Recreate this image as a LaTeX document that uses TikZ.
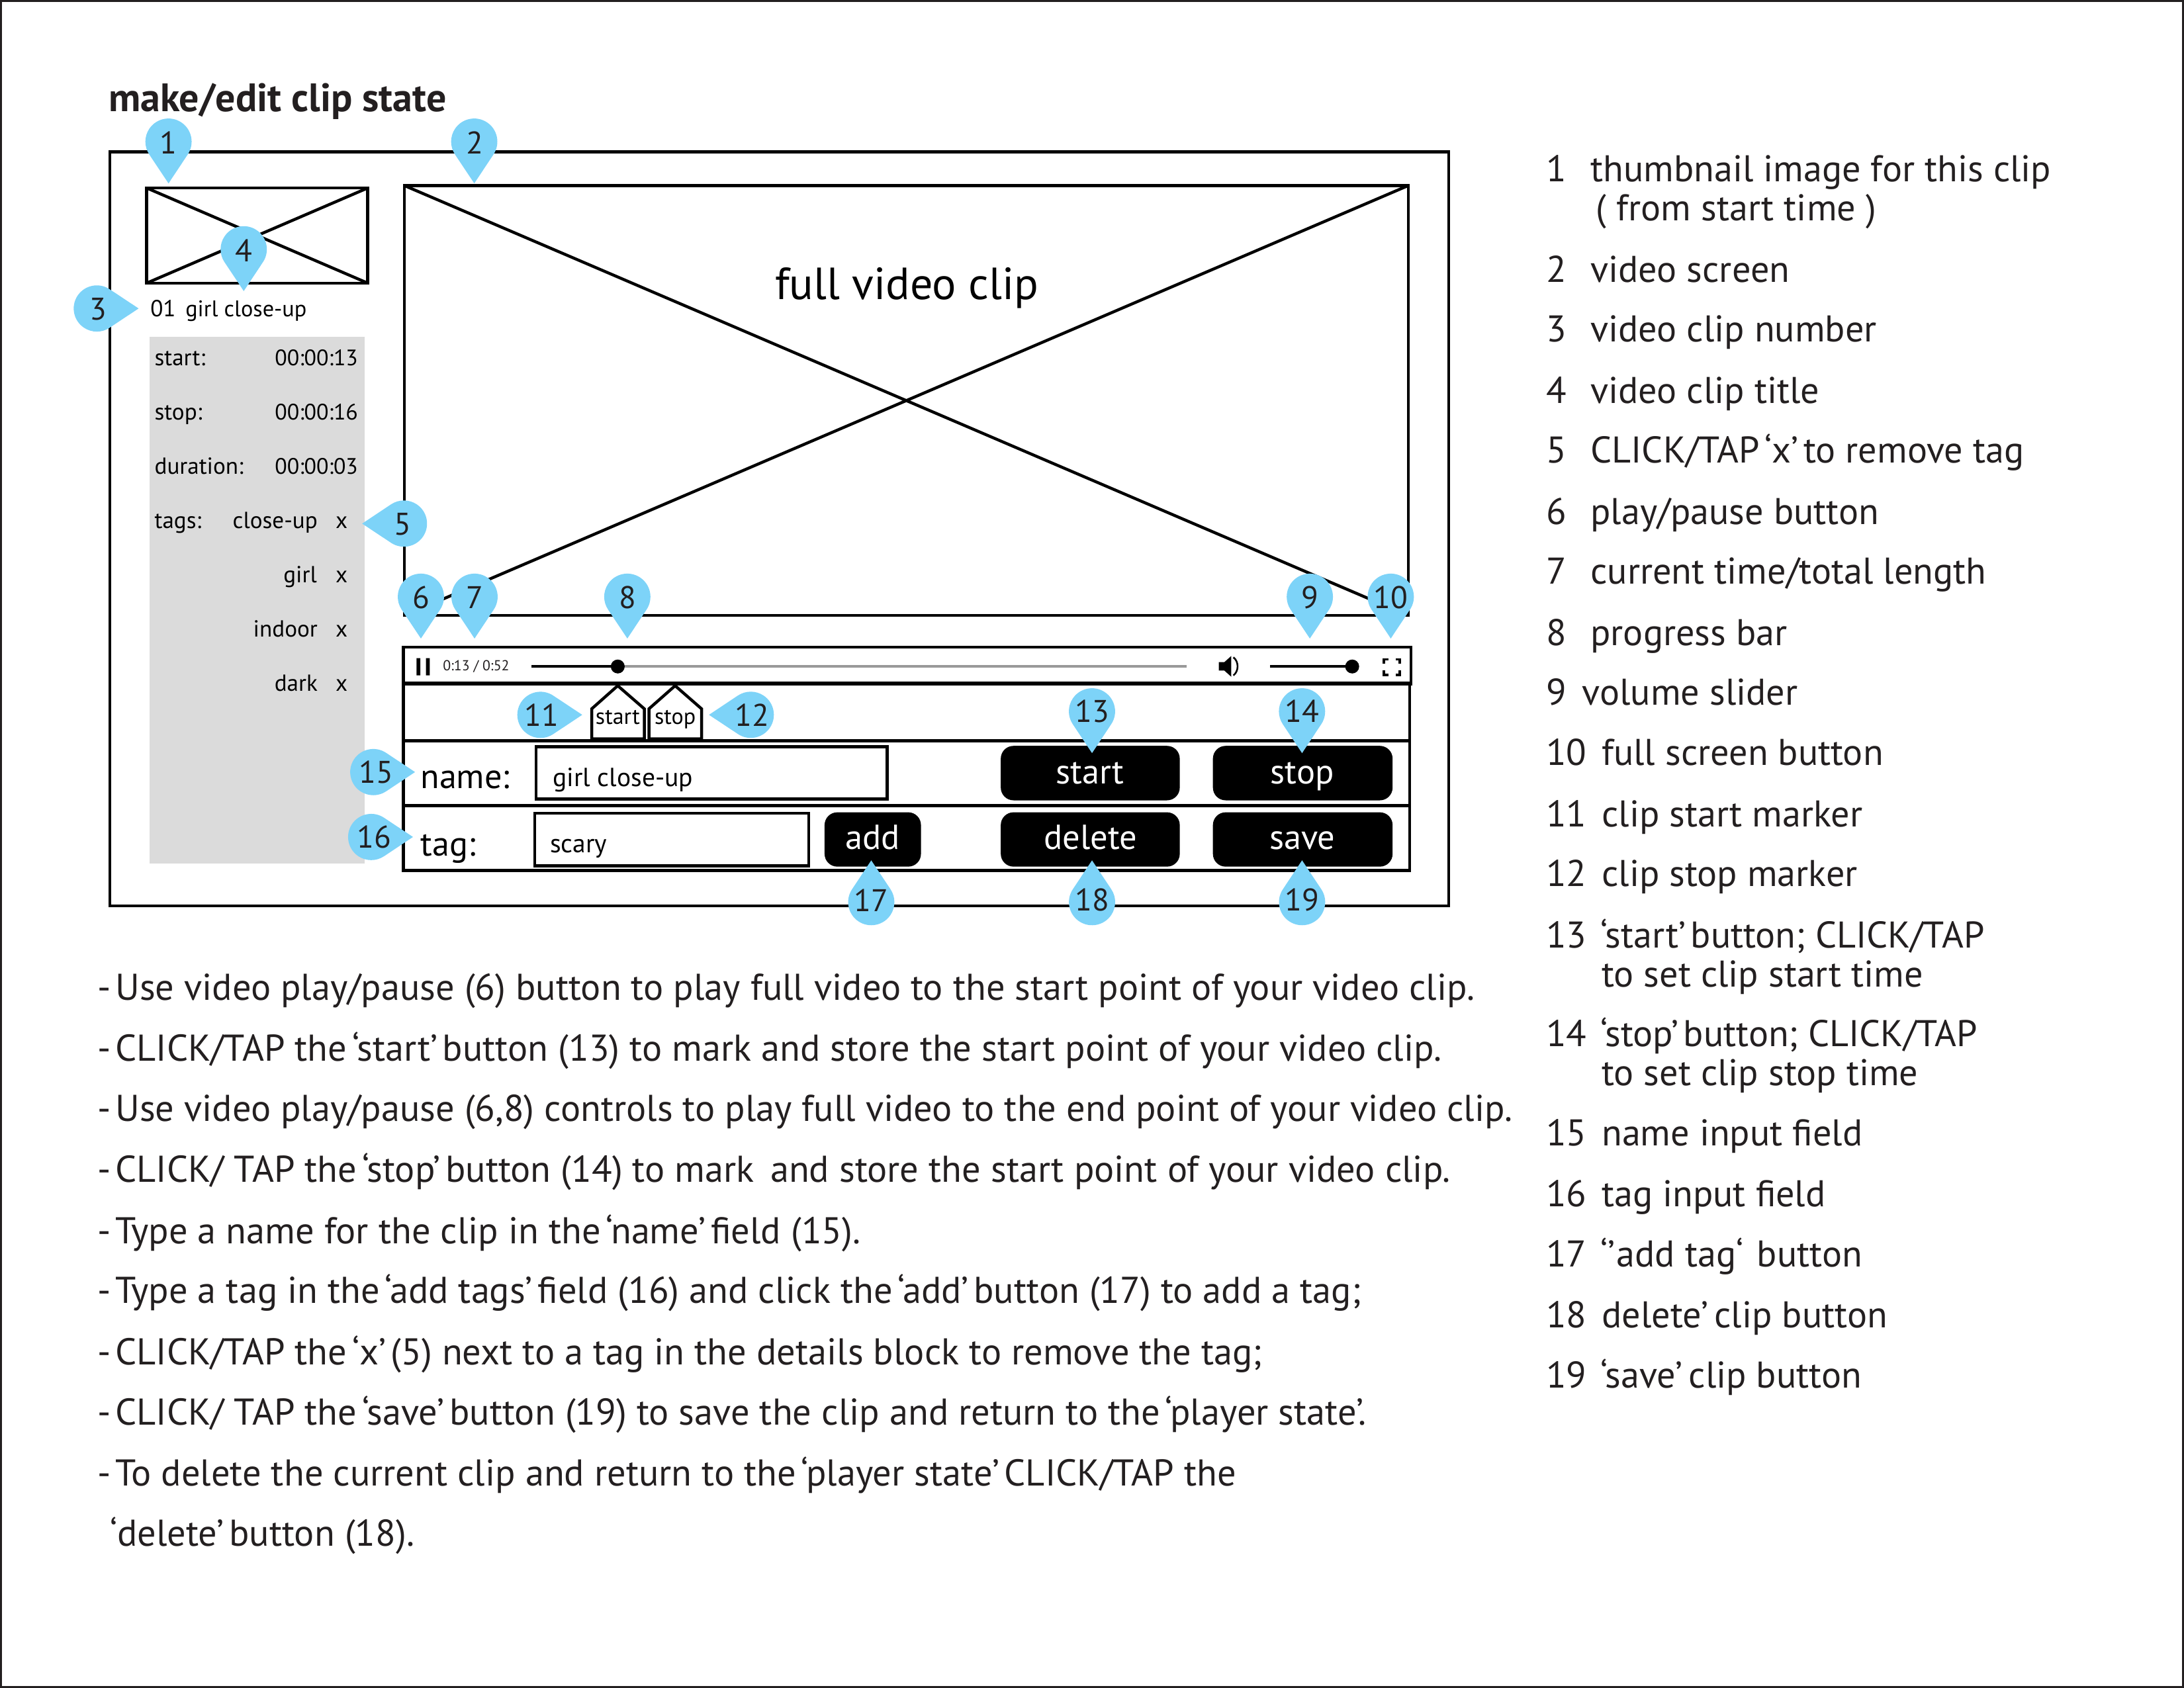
\documentclass[tikz,border=0pt]{standalone}
\usepackage{fontspec}
\setmainfont{PT Sans}
\definecolor{pinblue}{HTML}{7DD3F8}
\definecolor{ink}{HTML}{231F20}
\definecolor{panelgray}{HTML}{DBDBDB}
\tikzset{
  every node/.style={inner sep=0pt,outer sep=0pt,text=ink},
  thinbox/.style={draw=black,line width=1.2pt},
  pinlabel/.style={font=\fontsize{12.8}{14}\selectfont},
  bodytext/.style={anchor=base west,font=\fontsize{15.25}{18}\selectfont},
  listtext/.style={anchor=base west,font=\fontsize{15.2}{18}\selectfont},
  sidetext/.style={anchor=base west,font=\fontsize{9.5}{11}\selectfont,text=black},
  sideright/.style={anchor=base east,font=\fontsize{9.5}{11}\selectfont,text=black},
  timetext/.style={anchor=base east,font=\fontsize{9.15}{11}\selectfont,text=black},
  formtext/.style={anchor=base west,font=\fontsize{14.1}{16}\selectfont,text=black},
  inputtext/.style={anchor=base west,font=\fontsize{10.7}{13}\selectfont,text=black},
  btn/.style={fill=black,draw=none,rounded corners=5.2pt},
  btntext/.style={font=\fontsize{14.2}{16}\selectfont,text=white},
  markertext/.style={anchor=base,font=\fontsize{9.2}{11}\selectfont,text=black},
}
% [label offset], name, x, y, rotation (0 = tip down), label
\newcommand{\pinmark}[6][0,0]{%
  \fill[pinblue,shift={(#3,#4)},rotate=#5]
    (0,30) -- (13.8,9.2) arc[start angle=33.6,end angle=-213.6,radius=16.6] -- cycle;
  \node[pinlabel,shift={(#1)}] (#2) at (#3,#4) {#6};}
\newcommand{\listline}[4]{\node[listtext] (#1) at (#2,#3) {#4};}
\newcommand{\bodyline}[4]{\node[bodytext] (#1) at (#2,#3) {#4};}
% tightly set quoted word, as the reference prints it
\newcommand{\tq}[1]{\hspace{-0.13em}‘#1’\hspace{-0.13em}}
\newcommand{\dsh}{-\hspace{0.12em}}
\begin{document}
\begin{tikzpicture}[x=0.02cm,y=-0.02cm]
\useasboundingbox (0,0) rectangle (1568,1212);
\draw[line width=0.9pt,draw=ink] (0.5,0.5) rectangle (1567.5,1211.5);

\node[anchor=base west,font=\bfseries\fontsize{16.2}{18}\selectfont] (title) at (78,80) {make/edit clip state};

% frame
\draw[thinbox] (79,109) rectangle (1040,650.5);
% thumbnail
\draw[thinbox] (105.3,135) rectangle (264,203.3);
\draw[thinbox] (105.3,135) -- (264,203.3) (105.3,203.3) -- (264,135);
% video
\draw[thinbox] (290.4,133.3) rectangle (1011,442);
\draw[thinbox] (290.4,133.3) -- (1011,442) (290.4,442) -- (1011,133.3);
\node[anchor=base,font=\fontsize{18.4}{22}\selectfont,text=black] (fulltitle) at (651,215) {full video clip};

\node[sidetext] (clipno) at (108,227.5) {01\hspace{0.42em}\fontsize{9.25}{11}\selectfont girl close-up};
\fill[panelgray] (107.2,242) rectangle (261.7,620);
\node[sidetext] (l1) at (111,262.3) {start:};   \node[timetext] (v1) at (257,262.3) {00:00:13};
\node[sidetext] (l2) at (111,301.3) {stop:};    \node[timetext] (v2) at (257,301.3) {00:00:16};
\node[sidetext] (l3) at (111,340.3) {duration:};\node[timetext] (v3) at (257,340.3) {00:00:03};
\node[sidetext] (l4) at (111,379.3) {tags:};
\node[sideright] (t1) at (228,379.3) {close-up}; \node[sidetext] (x1) at (241,379.3) {x};
\node[sideright] (t2) at (227.5,418.3) {girl};   \node[sidetext] (x2) at (241,418.3) {x};
\node[sideright] (t3) at (228,457.3) {indoor};   \node[sidetext] (x3) at (241,457.3) {x};
\node[sideright] (t4) at (228,496.3) {dark};     \node[sidetext] (x4) at (241,496.3) {x};

% control panel
\draw[thinbox] (289.7,464.8) rectangle (1013,491);
\draw[thinbox] (289.7,491) rectangle (1012,625);
\draw[line width=1.7pt] (289.7,491) -- (1013,491);
\draw[thinbox] (289.7,532) -- (1012,532) (289.7,578.4) -- (1012,578.4);

\fill[black] (299,472.6) rectangle (301.8,485) (305.8,472.6) rectangle (308.6,485);
\node[font=\fontsize{5.9}{6}\selectfont,anchor=west] (timecode) at (318,478.5) {0:13 / 0:52};
\draw[line width=1.1pt,draw=black!40] (443.5,478.6) -- (852,478.6);
\draw[line width=1.1pt,draw=black] (381.6,478.6) -- (443.5,478.6);
\fill[black] (443.5,478.6) circle[radius=5];
% speaker
\fill[black] (875,475.5) -- (879,475.5) -- (884,471) -- (884,486) -- (879,481.5) -- (875,481.5) -- cycle;
\draw[line width=0.7pt] (885.5,472) .. controls (889.5,475) and (889.5,482) .. (885.5,485);
\draw[line width=1pt] (912,478.6) -- (970.8,478.6);
\fill[black] (970.8,478.6) circle[radius=5];
% fullscreen
\draw[line width=1pt] (993.5,476.5) -- (993.5,473.5) -- (997,473.5)
  (1002,473.5) -- (1005,473.5) -- (1005,476.5)
  (1005,481.5) -- (1005,484.5) -- (1002,484.5)
  (997,484.5) -- (993.5,484.5) -- (993.5,481.5);

% markers
\draw[line width=1.2pt,fill=white] (424.8,530.5) -- (424.8,509) -- (443.5,492.4) -- (462.6,509) -- (462.6,530.5) -- cycle;
\draw[line width=1.2pt,fill=white] (465.9,530.5) -- (465.9,509) -- (484.7,492.4) -- (503.7,509) -- (503.7,530.5) -- cycle;
\node[markertext] (mstart) at (443.5,520) {start};
\node[markertext] (mstop) at (484.7,520) {stop};

% form
\node[formtext] (namelbl) at (302,566) {name:};
\draw[thinbox] (385,536.2) rectangle (637,573.7);
\node[inputtext] (nameval) at (397,564.5) {girl close-up};
\node[formtext] (taglbl) at (302,614.5) {tag:};
\draw[thinbox] (384,584) rectangle (580.5,621.7);
\node[inputtext] (tagval) at (395,612) {scary};

\fill[btn] (592,583.3) rectangle (661.2,622.3);
\fill[btn] (718.5,535.6) rectangle (847,574.7);
\fill[btn] (870.8,535.6) rectangle (999.8,574.7);
\fill[btn] (718.5,583.3) rectangle (847,622.3);
\fill[btn] (870.8,583.3) rectangle (999.8,622.3);
\node[btntext,anchor=base] (badd) at (626.5,610) {add};
\node[btntext,anchor=base] (bstart) at (782.5,563) {start};
\node[btntext,anchor=base] (bstop) at (935,563) {stop};
\node[btntext,anchor=base] (bdel) at (783,610) {delete};
\node[btntext,anchor=base] (bsave) at (935,610) {save};

% pins
\pinmark[0,0.8]{p1}{121}{101.7}{0}{1}
\pinmark[0.5,0.8]{p2}{340.5}{101.7}{0}{2}
\pinmark[1,0.5]{p3}{69.5}{221.5}{90}{3}
\pinmark[0,0.8]{p4}{175}{179}{0}{4}
\pinmark[-1,0.5]{p5}{290}{376}{-90}{5}
\pinmark[0,0.5]{p6}{302.2}{428.5}{0}{6}
\pinmark[0,0.5]{p7}{340.7}{428.5}{0}{7}
\pinmark[0,0.5]{p8}{450.4}{428.5}{0}{8}
\pinmark[0,0.5]{p9}{940.4}{428.5}{0}{9}
\pinmark[0,0.5]{p10}{998.5}{428.5}{0}{10}
\pinmark[1,0]{p11}{388}{513.3}{90}{11}
\pinmark[1,0]{p12}{539}{513.3}{-90}{12}
\pinmark{p13}{784}{510.8}{0}{13}
\pinmark{p14}{934.8}{510.8}{0}{14}
\pinmark[2,0]{p15}{268}{554.4}{90}{15}
\pinmark[2,0]{p16}{266.5}{601}{90}{16}
\pinmark[0,-1.5]{p17}{625.5}{647.8}{180}{17}
\pinmark[0,-1.5]{p18}{784}{647.8}{180}{18}
\pinmark[0,-1.5]{p19}{934.8}{647.8}{180}{19}

% instructions
\bodyline{b1}{70}{718}{\dsh Use video play/pause (6) button to play full video to the start point of your video clip.}
\bodyline{b2}{70}{762}{\dsh CLICK/TAP the \tq{start} button (13) to mark and store the start point of your video clip.}
\bodyline{b3}{70}{805}{\dsh Use video play/pause (6,8) controls to play full video to the end point of your video clip.}
\bodyline{b4}{70}{849}{\dsh CLICK/ TAP the \tq{stop} button (14) to mark\, and store the start point of your video clip.}
\bodyline{b5}{70}{893}{\dsh Type a name for the clip in the \tq{name} field (15).}
\bodyline{b6}{70}{936}{\dsh Type a tag in the \tq{add tags} field (16) and click the \tq{add} button (17) to add a tag;}
\bodyline{b7}{70}{980}{\dsh CLICK/TAP the \tq{x} (5) next to a tag in the details block to remove the tag;}
\bodyline{b8}{70}{1023}{\dsh CLICK/ TAP the \tq{save} button (19) to save the clip and return to the \tq{player state}.}
\bodyline{b9}{70}{1067}{\dsh To delete the current clip and return to the \tq{player state} CLICK/TAP the}
\bodyline{b10}{79}{1110}{‘delete’\hspace{-0.13em} button (18).}

% legend
\listline{n1}{1110}{130.5}{1}\listline{d1}{1142}{130.5}{thumbnail image for this clip}
\listline{d1b}{1146}{158.5}{( from start time )}
\listline{n2}{1110}{202.5}{2}\listline{d2}{1142}{202.5}{video screen}
\listline{n3}{1110}{245.5}{3}\listline{d3}{1142}{245.5}{video clip number}
\listline{n4}{1110}{289.5}{4}\listline{d4}{1142}{289.5}{video clip title}
\listline{n5}{1110}{332.5}{5}\listline{d5}{1142}{332.5}{CLICK/TAP \tq{x} to remove tag}
\listline{n6}{1110}{376.5}{6}\listline{d6}{1142}{376.5}{play/pause button}
\listline{n7}{1110}{419.5}{7}\listline{d7}{1142}{419.5}{current time/total length}
\listline{n8}{1110}{463.5}{8}\listline{d8}{1142}{463.5}{progress bar}
\listline{n9}{1110}{506.5}{9}\listline{d9}{1136}{506.5}{volume slider}
\listline{n10}{1110}{549.5}{10}\listline{d10}{1150}{549.5}{full screen button}
\listline{n11}{1110}{593.5}{11}\listline{d11}{1150}{593.5}{clip start marker}
\listline{n12}{1110}{636.5}{12}\listline{d12}{1150}{636.5}{clip stop marker}
\listline{n13}{1110}{680.5}{13}\listline{d13}{1149}{680.5}{‘start’\hspace{-0.13em} button; CLICK/TAP}
\listline{d13b}{1150}{708.5}{to set clip start time}
\listline{n14}{1110}{751.5}{14}\listline{d14}{1149}{751.5}{‘stop’\hspace{-0.13em} button; CLICK/TAP}
\listline{d14b}{1150}{779.5}{to set clip stop time}
\listline{n15}{1110}{822.5}{15}\listline{d15}{1150}{822.5}{name input field}
\listline{n16}{1110}{866.5}{16}\listline{d16}{1150}{866.5}{tag input field}
\listline{n17}{1110}{909.5}{17}\listline{d17}{1149}{909.5}{‘’\hspace{0.05em}add tag‘ \hspace{0.1em}button}
\listline{n18}{1110}{953.5}{18}\listline{d18}{1150}{953.5}{delete’\hspace{-0.1em} clip button}
\listline{n19}{1110}{996.5}{19}\listline{d19}{1149}{996.5}{‘save’\hspace{-0.1em} clip button}
\end{tikzpicture}
\end{document}
